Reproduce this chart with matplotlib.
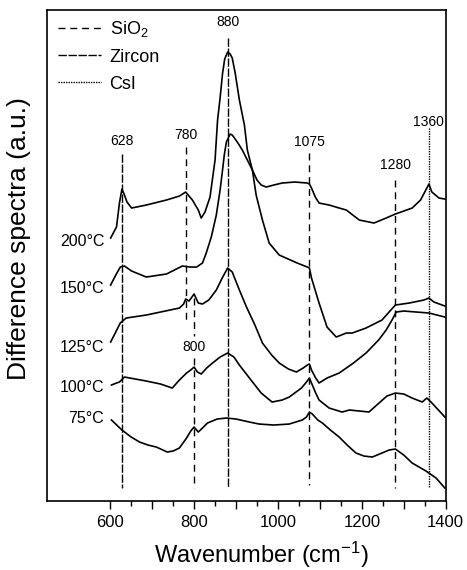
import matplotlib
matplotlib.use("Agg")
import matplotlib.pyplot as plt
from matplotlib.ticker import FuncFormatter
from matplotlib.lines import Line2D

plt.rcParams['font.family'] = ['Liberation Sans', 'DejaVu Sans']
plt.rcParams['mathtext.default'] = 'regular'

# spectra (wavenumber cm-1, intensity a.u. with offsets)
w200 = [601, 615, 622, 628, 634, 640, 651, 686, 734, 765, 780, 796, 810, 817, 826, 838, 850, 856, 862, 868,
        873, 880, 886, 891, 898, 908, 920, 927, 939, 948, 963, 979, 1003, 1046, 1070, 1075, 1080, 1098, 1117, 1139,
        1163, 1177, 1210, 1248, 1280, 1313, 1348, 1360, 1372, 1398]
v200 = [263, 274, 298, 312, 306, 299, 293, 296, 301, 305, 309, 301, 291, 283, 289, 304, 341, 381, 403, 428,
        442, 449, 447, 443, 428, 401, 376, 351, 331, 306, 281, 258, 246, 238, 234, 233, 223, 198, 174, 164,
        168, 168, 173, 181, 196, 198, 201, 203, 199, 195]

w150 = [601, 612, 624, 634, 651, 686, 734, 772, 790, 806, 820, 829, 841, 853, 862, 867, 872, 877, 886, 891,
        903, 915, 927, 939, 950, 960, 972, 990, 1010, 1040, 1070, 1075, 1080, 1089, 1098, 1122, 1146, 1163, 1194, 1229,
        1258, 1280, 1320, 1340, 1350, 1360, 1367, 1384, 1398]
v150 = [216, 225, 234, 235, 230, 224, 227, 235, 234, 234, 238, 248, 264, 286, 311, 328, 346, 359, 367, 366,
        359, 351, 341, 331, 321, 316, 314, 316, 318, 319, 318, 317, 313, 304, 298, 296, 293, 291, 281, 278,
        283, 287, 293, 301, 309, 317, 309, 303, 302]

w125 = [601, 612, 624, 638, 686, 765, 775, 780, 788, 800, 810, 820, 835, 853, 867, 880, 891, 908, 925, 945,
        963, 985, 1003, 1025, 1044, 1060, 1070, 1075, 1080, 1090, 1098, 1117, 1146, 1180, 1210, 1240, 1258, 1272, 1282, 1300,
        1330, 1360, 1398]
v125 = [159, 168, 178, 183, 186, 193, 197, 202, 200, 207, 198, 197, 201, 211, 223, 233, 229, 211, 194, 176,
        158, 146, 138, 132, 129, 133, 136, 137, 131, 123, 118, 123, 128, 138, 148, 161, 171, 181, 189, 190,
        189, 188, 184]

w100 = [603, 615, 622, 634, 660, 686, 720, 748, 765, 782, 792, 800, 808, 817, 830, 844, 862, 880, 895, 908,
        932, 960, 986, 1010, 1027, 1056, 1068, 1075, 1080, 1090, 1098, 1122, 1153, 1170, 1195, 1217, 1241, 1260, 1280, 1300,
        1320, 1344, 1355, 1365, 1398]
v100 = [116, 118, 119, 124, 122, 120, 117, 113, 121, 128, 131, 134, 129, 127, 133, 138, 144, 148, 144, 136,
        123, 108, 99, 101, 104, 113, 119, 123, 118, 108, 101, 93, 89, 91, 90, 89, 98, 105, 108, 107,
        103, 99, 103, 99, 84]

w75 = [603, 628, 650, 670, 690, 710, 736, 750, 765, 782, 792, 800, 810, 820, 832, 855, 877, 900, 932, 955,
       990, 1027, 1050, 1058, 1068, 1075, 1082, 1095, 1106, 1125, 1146, 1165, 1186, 1205, 1225, 1248, 1265, 1280, 1300, 1320,
       1353, 1377, 1398]
v75 = [81, 71, 64, 59, 56, 54, 49, 50, 53, 63, 70, 74, 69, 73, 78, 82, 83, 82, 79, 77,
       76, 77, 80, 81, 84, 89, 87, 81, 78, 71, 64, 56, 48, 45, 44, 48, 51, 52, 46, 38,
       30, 23, 13]

spectra = [(w200, v200), (w150, v150), (w125, v125), (w100, v100), (w75, v75)]
temp_labels = ["200°C", "150°C", "125°C", "100°C", "75°C"]
temp_label_y = [260, 213, 154, 114, 83]

# band marker lines
band_pos = [628, 780, 800, 880, 1075, 1280, 1360]
band_kind = ["Zircon", "SiO2", "SiO2", "Zircon", "SiO2", "SiO2", "CsI"]
band_top = [347, 354, 203, 463, 348, 321, 373]
band_bottom = [13, 178, 13, 13, 16, 13, 13]
band_label_y = [360, 366, 154, 479, 359, 336, 379]
gap_800 = (165, 143)  # the 800 line is broken around its label

styles = {"SiO2": (0, (5, 3.5)), "Zircon": (0, (6, 1.2)), "CsI": (0, (1.0, 0.8))}
legend_names = {"SiO2": "SiO$_2$", "Zircon": "Zircon", "CsI": "CsI"}

fig = plt.figure(figsize=(4.67, 5.70), dpi=100)
ax = fig.add_axes([0.1013, 0.121, 0.8531, 0.8614])

for w, v in spectra:
    ax.plot(w, v, color="black", lw=1.2)

for pos, kind, top, bot, ly in zip(band_pos, band_kind, band_top, band_bottom, band_label_y):
    if pos == 800:
        ax.plot([pos, pos], [top, gap_800[0]], color="black", lw=1.0, ls=styles[kind])
        ax.plot([pos, pos], [gap_800[1], bot], color="black", lw=1.0, ls=styles[kind])
    else:
        ax.plot([pos, pos], [top, bot], color="black", lw=1.0, ls=styles[kind])
    ax.text(pos, ly, str(pos), ha="center", va="center", fontsize=10)

for lab, y in zip(temp_labels, temp_label_y):
    ax.text(586, y, lab, ha="right", va="center", fontsize=11.5)

handles = [Line2D([], [], color="black", lw=1.0, ls=styles[k]) for k in ["SiO2", "Zircon", "CsI"]]
ax.legend(handles, [legend_names[k] for k in ["SiO2", "Zircon", "CsI"]],
          loc="upper left", bbox_to_anchor=(0.027, 0.982), frameon=False, fontsize=13,
          handlelength=2.4, handletextpad=0.45, labelspacing=0.55, borderpad=0, borderaxespad=0)

ax.set_xlim(450, 1400)
ax.set_ylim(0, 491)
ax.set_xticks(range(600, 1401, 100))
ax.set_xticks(range(650, 1400, 100), minor=True)
ax.xaxis.set_major_formatter(FuncFormatter(lambda x, p: f"{int(x)}" if int(x) % 200 == 0 else ""))
ax.tick_params(axis="x", which="major", direction="out", length=6, width=1.0, labelsize=12, pad=4)
ax.tick_params(axis="x", which="minor", direction="out", length=3.5, width=1.0)
ax.set_yticks([])
for s in ax.spines.values():
    s.set_linewidth(1.2)

fig.text(0.04, 0.581, "Difference spectra (a.u.)", rotation=90, ha="center", va="center", fontsize=19)
fig.text(0.56, 0.0263, "Wavenumber (cm$^{-1}$)", ha="center", va="center", fontsize=17)

fig.savefig("out.png", dpi=100)
